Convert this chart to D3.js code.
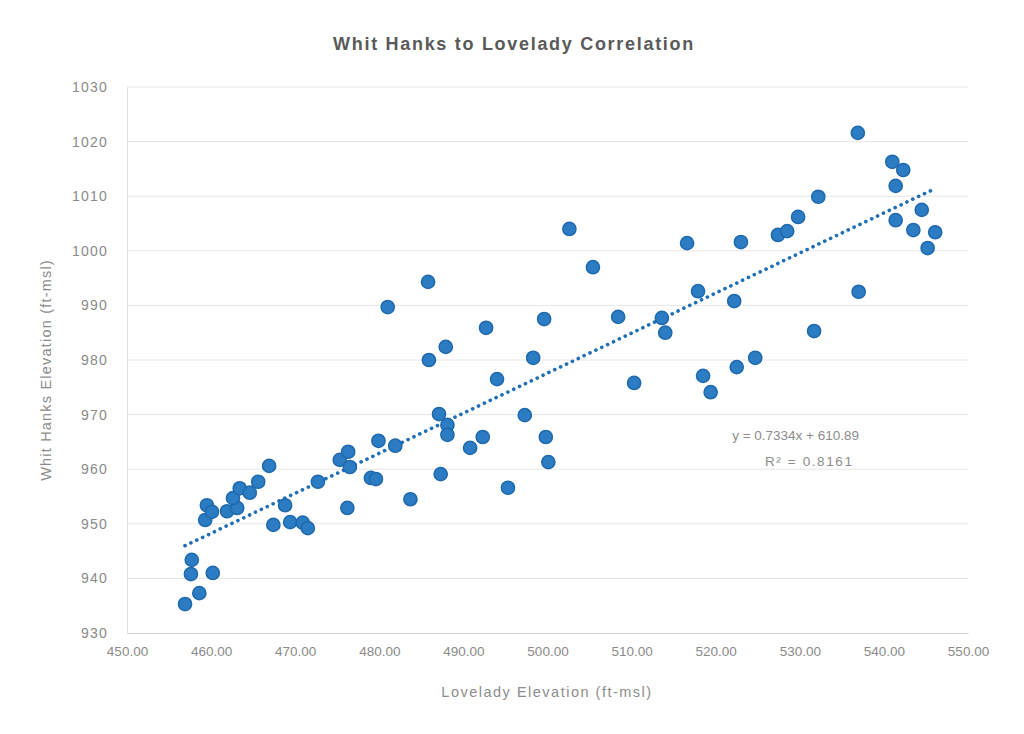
<!DOCTYPE html>
<html>
<head>
<meta charset="utf-8">
<script src="https://cdn.jsdelivr.net/npm/d3@7"></script>
<style>
  html, body { margin: 0; padding: 0; background: #fff; }
  svg { display: block; }
  text { font-family: "Liberation Sans", Arial, sans-serif; }
</style>
</head>
<body>
<svg id="chart" width="1024" height="734"></svg>
<script>
// Lovelady elevation (ft-msl) for each observation
const loveladyElev = [
  456.9, 458.6, 457.6, 457.7, 460.2, 459.3, 459.5, 460.1, 461.9, 463.1,
  462.6, 463.4, 464.6, 465.6, 466.9, 468.8, 467.4, 469.4, 470.9, 471.5,
  472.7, 475.3, 476.3, 476.5, 476.2, 479.0, 479.6, 479.9, 481.9, 483.7,
  481.0, 485.8, 485.9, 487.9, 487.1, 488.1, 488.1, 487.3, 490.8, 492.3,
  492.7, 494.0, 495.3, 497.3, 498.3, 499.6, 499.8, 500.1, 502.6, 505.4,
  508.4, 510.3, 513.6, 514.0, 516.6, 517.9, 518.5, 519.4, 522.2, 522.5,
  523.0, 524.7, 527.4, 528.5, 529.8, 532.2, 531.7, 536.9, 537.0, 541.0,
  542.3, 541.4, 541.4, 544.5, 543.5, 546.1, 545.2
];
// Whit Hanks elevation (ft-msl) for the same observations
const whitHanksElev = [
  935.3, 937.3, 940.8, 943.4, 941.0, 950.7, 953.4, 952.2, 952.3, 952.9,
  954.7, 956.5, 955.7, 957.7, 960.6, 953.4, 949.8, 950.3, 950.2, 949.2,
  957.7, 961.7, 963.2, 960.4, 952.9, 958.4, 958.2, 965.2, 964.3, 954.5,
  989.7, 994.3, 980.0, 982.4, 970.1, 968.1, 966.3, 959.1, 963.9, 965.9,
  985.9, 976.5, 956.6, 969.9, 980.4, 987.5, 965.9, 961.3, 1004.0, 997.0,
  987.9, 975.8, 987.7, 985.0, 1001.4, 992.6, 977.1, 974.1, 990.8, 978.7,
  1001.6, 980.4, 1002.9, 1003.6, 1006.2, 1009.9, 985.3, 1021.6, 992.5, 1016.3,
  1014.8, 1011.9, 1005.6, 1007.5, 1003.8, 1003.4, 1000.5
];

// Axis ticks
const xTicks = [450, 460, 470, 480, 490, 500, 510, 520, 530, 540, 550];
const yTicks = [930, 940, 950, 960, 970, 980, 990, 1000, 1010, 1020, 1030];

// Linear trendline reported for the series
const trendSlope = 0.7334;
const trendIntercept = 610.89;
const rSquared = 0.8161;

const chartTitle = "Whit Hanks to Lovelady Correlation";
const xTitle = "Lovelady Elevation (ft-msl)";
const yTitle = "Whit Hanks Elevation (ft-msl)";

const svg = d3.select("#chart");
const plot = { left: 127, right: 968, top: 87, bottom: 633 };

const x = d3.scaleLinear().domain([450, 550]).range([plot.left, plot.right]);
const y = d3.scaleLinear().domain([930, 1030]).range([plot.bottom, plot.top]);

svg.append("rect").attr("width", 1024).attr("height", 734).attr("fill", "#fff");

// Horizontal gridlines
svg.append("g")
  .selectAll("line")
  .data(yTicks.filter(t => t !== 930))
  .join("line")
  .attr("x1", plot.left).attr("x2", plot.right)
  .attr("y1", d => y(d)).attr("y2", d => y(d))
  .attr("stroke", "#e6e6e6").attr("stroke-width", 1);

// X axis
const xAxis = svg.append("g")
  .attr("transform", `translate(0,${plot.bottom})`)
  .call(d3.axisBottom(x).tickValues(xTicks).tickFormat(d3.format(".2f")).tickSize(0).tickPadding(13));
xAxis.select(".domain").attr("stroke", "#cfcfcf").attr("stroke-width", 1.2);
xAxis.selectAll("text")
  .attr("fill", "#8a8a8a").attr("font-size", 13.5);

// Y axis
const yAxis = svg.append("g")
  .attr("transform", `translate(${plot.left},0)`)
  .call(d3.axisLeft(y).tickValues(yTicks).tickFormat(d3.format("d")).tickSize(0).tickPadding(19));
yAxis.select(".domain").attr("stroke", "#e0e0e0").attr("stroke-width", 1);
yAxis.selectAll("text")
  .attr("fill", "#8a8a8a").attr("font-size", 14).attr("letter-spacing", 1.2);

// Trendline over the observed range
const xMin = d3.min(loveladyElev), xMax = d3.max(loveladyElev);
const trend = [xMin, xMax].map(v => [v, trendSlope * v + trendIntercept]);
svg.append("path")
  .datum(trend)
  .attr("d", d3.line().x(d => x(d[0])).y(d => y(d[1])))
  .attr("fill", "none")
  .attr("stroke", "#1f6fb6")
  .attr("stroke-width", 3.6)
  .attr("stroke-linecap", "round")
  .attr("stroke-dasharray", "0.1 6.4");

// Observations
const points = loveladyElev.map((v, i) => [v, whitHanksElev[i]]);
svg.append("g")
  .selectAll("circle")
  .data(points)
  .join("circle")
  .attr("cx", d => x(d[0]))
  .attr("cy", d => y(d[1]))
  .attr("r", 6.6)
  .attr("fill", "#2b7cc3")
  .attr("stroke", "#1f69ad")
  .attr("stroke-width", 1.5);

// Trendline equation
const eq = svg.append("g").attr("fill", "#8c8c8c").attr("font-size", 13.5);
eq.append("text").attr("x", 859).attr("y", 440).attr("text-anchor", "end")
  .text(`y = ${trendSlope}x + ${trendIntercept.toFixed(2)}`);
eq.append("text").attr("x", 765).attr("y", 466).attr("letter-spacing", 1.6)
  .text(`R² = ${rSquared}`);

// Titles
svg.append("text")
  .attr("x", 514).attr("y", 50)
  .attr("text-anchor", "middle")
  .attr("font-size", 18).attr("font-weight", "bold")
  .attr("letter-spacing", 1.7)
  .attr("fill", "#595959")
  .text(chartTitle);

svg.append("text")
  .attr("x", 547).attr("y", 697)
  .attr("text-anchor", "middle")
  .attr("font-size", 14.5).attr("letter-spacing", 1.5)
  .attr("fill", "#8c8c8c")
  .text(xTitle);

svg.append("text")
  .attr("transform", `translate(51,${(plot.top + plot.bottom) / 2 + 10}) rotate(-90)`)
  .attr("text-anchor", "middle")
  .attr("font-size", 14.5).attr("letter-spacing", 1.2)
  .attr("fill", "#8c8c8c")
  .text(yTitle);
</script>
</body>
</html>
